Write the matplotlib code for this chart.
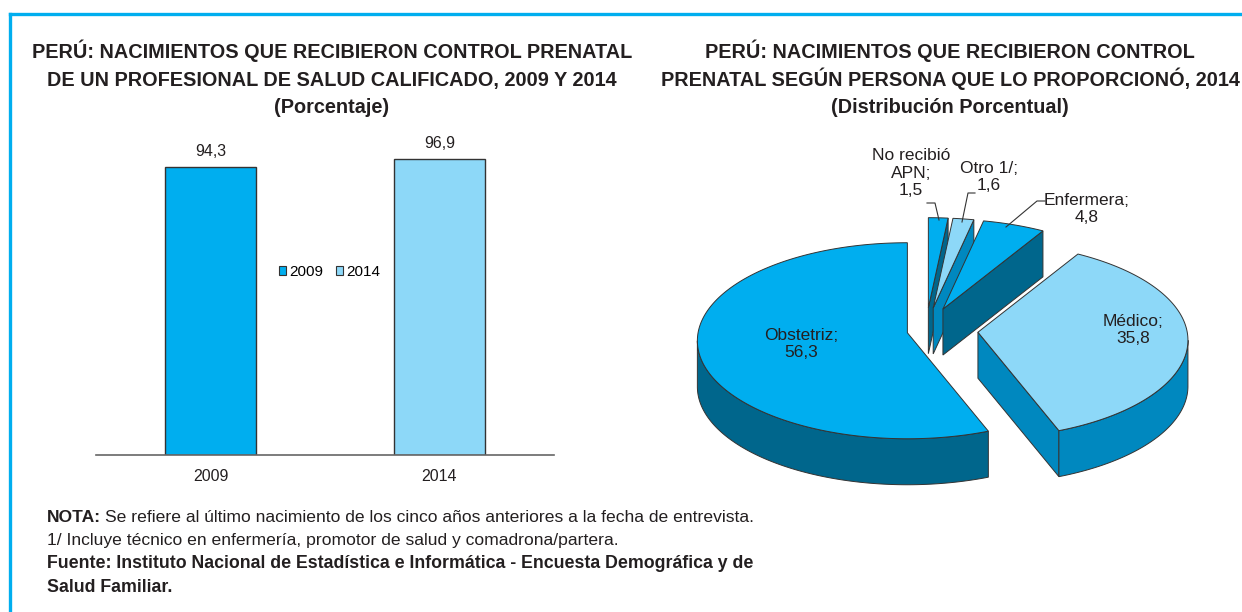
import numpy as np
import matplotlib
matplotlib.use('Agg')
import matplotlib.pyplot as plt
from matplotlib.patches import Polygon
from matplotlib.lines import Line2D

# datos
bar_years = ['2009', '2014']
bar_values = [94.3, 96.9]

pie_labels = ['Obstetriz', 'Médico', 'Enfermera', 'Otro 1/', 'No recibió\nAPN']
pie_values = [56.3, 35.8, 4.8, 1.6, 1.5]

# colores
CYAN = '#00AEEF'
LIGHT = '#8DD8F8'
DARK = '#00668C'
MID = '#0088BF'
EDGE = '#333333'
TXT = '#231F20'

plt.rcParams['font.family'] = ['Liberation Sans', 'DejaVu Sans']

W, H = 1242, 612
fig = plt.figure(figsize=(W / 100, H / 100), dpi=100)

# capa de fondo en pixeles (marco, pastel, textos)
base = fig.add_axes([0, 0, 1, 1])
base.set_xlim(0, W)
base.set_ylim(H, 0)
base.axis('off')

# marco
base.add_line(Line2D([10, W], [14, 14], color=CYAN, lw=2.4))
base.add_line(Line2D([10, 10], [14, H], color=CYAN, lw=2.4))

# titulos (una linea por texto)
title_left = ['PERÚ: NACIMIENTOS QUE RECIBIERON CONTROL PRENATAL',
              'DE UN PROFESIONAL DE SALUD CALIFICADO, 2009 Y 2014',
              '(Porcentaje)']
title_right = ['PERÚ: NACIMIENTOS QUE RECIBIERON CONTROL',
               'PRENATAL SEGÚN PERSONA QUE LO PROPORCIONÓ, 2014',
               '(Distribución Porcentual)']
for yb, tl, tr in zip([58, 86, 113], title_left, title_right):
    base.text(332, yb, tl, ha='center', va='baseline', fontsize=14.3,
              fontweight='bold', color=TXT)
    base.text(950, yb, tr, ha='center', va='baseline', fontsize=14.3,
              fontweight='bold', color=TXT)

# grafico de barras
ax = fig.add_axes([96 / W, 1 - 455 / H, 458 / W, 305 / H])
x = np.arange(len(bar_years))
bars = ax.bar(x, bar_values, width=0.4, color=[CYAN, LIGHT],
              edgecolor=EDGE, linewidth=1.0)
ax.set_xlim(-0.5, 1.5)
ax.set_ylim(0, 100)
ax.set_xticks(x)
ax.set_xticklabels(bar_years, fontsize=11.5, color=TXT)
ax.tick_params(axis='x', length=0, pad=10)
ax.set_yticks([])
for s in ['top', 'right', 'left']:
    ax.spines[s].set_visible(False)
ax.spines['bottom'].set_color('#666666')
ax.spines['bottom'].set_linewidth(1.2)
ax.bar_label(bars, labels=[f'{v:.1f}'.replace('.', ',') for v in bar_values],
             padding=6, fontsize=11.5, color=TXT)
handles = [plt.Rectangle((0, 0), 1, 1, facecolor=c, edgecolor=EDGE, lw=0.8)
           for c in [CYAN, LIGHT]]
ax.legend(handles, bar_years, loc='center', bbox_to_anchor=(0.51, 0.6),
          ncol=2, frameon=False, fontsize=11, handlelength=0.5,
          handleheight=0.5, handletextpad=0.2, columnspacing=0.8)

# pastel 3D (dibujado a mano)
cx, cy = 926, 331
rx, k = 210, 0.4667
depth = 46
persp = 8
explode = [19, 52, 50, 50, 50]
tops = [CYAN, LIGHT, CYAN, LIGHT, CYAN]
sides = [DARK, MID, DARK, MID, DARK]


def scr(px, py, arc=False, down=0):
    return (cx + px, cy - py * k + (persp if arc else 0) + down)


angles = 90 + 360 * np.concatenate([[0], np.cumsum(pie_values)]) / sum(pie_values)
slices = []
for i in range(len(pie_values)):
    a0, a1 = angles[i], angles[i + 1]
    b = np.radians((a0 + a1) / 2)
    slices.append((i, a0, a1, explode[i] * np.cos(b), explode[i] * np.sin(b)))

# dibujar de atras hacia adelante
order = sorted(slices, key=lambda s: -s[4])
for n_ord, (i, a0, a1, ox, oy) in enumerate(order):
    zo = 5 + n_ord * 3

    def arc_pts(t0, t1, down=0):
        tt = np.radians(np.linspace(t0, t1, max(int(abs(t1 - t0)) * 2, 2)))
        return [scr(ox + rx * np.cos(t), oy + rx * np.sin(t), True, down) for t in tt]

    apex = scr(ox, oy)
    apex_d = scr(ox, oy, down=depth)
    # paredes radiales visibles
    for t, sgn in [(a0, 1), (a1, -1)]:
        tr = np.radians(t)
        if -np.cos(tr) * sgn < -1e-6:
            ex, ey = ox + rx * np.cos(tr), oy + rx * np.sin(tr)
            base.add_patch(Polygon([apex, scr(ex, ey, True),
                                    scr(ex, ey, True, depth), apex_d],
                                   closed=True, facecolor=sides[i],
                                   edgecolor=EDGE, lw=0.7, zorder=zo))
    # pared exterior frontal
    for n in (-1, 0, 1):
        lo, hi = max(a0, 180 + 360 * n), min(a1, 360 + 360 * n)
        if hi > lo:
            up = arc_pts(lo, hi)
            dn = arc_pts(lo, hi, depth)
            base.add_patch(Polygon(up + dn[::-1], closed=True,
                                   facecolor=sides[i], edgecolor=EDGE,
                                   lw=0.7, zorder=zo + 1))
    # cara superior
    base.add_patch(Polygon([apex] + arc_pts(a0, a1), closed=True,
                           facecolor=tops[i], edgecolor=EDGE, lw=0.7,
                           zorder=zo + 2))


# etiquetas del pastel
def fmt(v):
    return f'{v:.1f}'.replace('.', ',')


lab_pos = [(801, 344), (1133, 330), (1087, 209), (989, 177), (911, 173)]
for i, (lx, ly) in enumerate(lab_pos):
    base.text(lx, ly, f'{pie_labels[i]};\n{fmt(pie_values[i])}', ha='center',
              va='center', fontsize=12.5, color=TXT, linespacing=1.2,
              zorder=30)

# lineas guia
leaders = [
    [(1045, 201), (1037, 201), (1006, 227)],
    [(975, 193), (968, 193), (962, 222)],
    [(927, 203), (935, 203), (939, 220)],
]
for pts in leaders:
    xs, ys = zip(*pts)
    base.add_line(Line2D(xs, ys, color='#333333', lw=0.8, zorder=30))

# notas
nota = base.text(47, 522, 'NOTA:', fontsize=12.6, fontweight='bold',
                 va='baseline', color=TXT)
base.annotate('Se refiere al último nacimiento de los cinco años anteriores a la fecha de entrevista.',
              xy=(1, 0), xycoords=nota, xytext=(3, 0), textcoords='offset points',
              fontsize=12.6, va='bottom', color=TXT)
base.text(47, 545, '1/ Incluye técnico en enfermería, promotor de salud y comadrona/partera.',
          fontsize=12.6, va='baseline', color=TXT)
base.text(47, 568, 'Fuente: Instituto Nacional de Estadística e Informática - Encuesta Demográfica y de',
          fontsize=12.8, fontweight='bold', va='baseline', color=TXT)
base.text(47, 592, 'Salud Familiar.', fontsize=12.8, fontweight='bold', va='baseline',
          color=TXT)

fig.savefig('out.png', dpi=100)
plt.close(fig)
